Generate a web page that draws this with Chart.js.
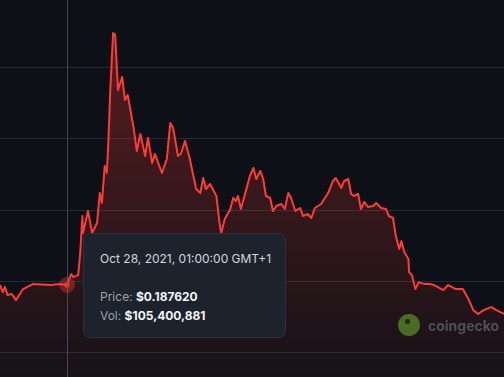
<!DOCTYPE html>
<html>
<head>
<meta charset="utf-8">
<script src="https://cdn.jsdelivr.net/npm/chart.js@4/dist/chart.umd.min.js"></script>
<style>
  html, body { margin: 0; padding: 0; background: #0d1117; }
  #wrap { position: relative; width: 504px; height: 377px; overflow: hidden; background: #0d1117; }
  #tip {
    position: absolute; box-sizing: border-box; width: 203px; height: 105px;
    background: #1c232d; border: 1px solid #2b323d; border-radius: 7px;
    font-family: Inter, "Noto Sans", sans-serif; font-size: 12px; color: #d3d7dd;
    padding: 15px 0 0 16px; line-height: 19px;
  }
  #tip .lbl { color: #9ba2ab; }
  #tip .val { color: #f2f4f7; font-weight: 700; }
  #wm { position: absolute; left: 398px; top: 314px; display: flex; align-items: center;
    font-family: Inter, "Noto Sans", sans-serif; font-weight: 700; font-size: 14px; color: #4b5056; }
  #wm .logo { width: 22px; height: 22px; border-radius: 50%; background: #4a6b22; margin-right: 8px; position: relative; }
  #wm .logo:after { content: ""; position: absolute; left: 7px; top: 5px; width: 5px; height: 5px; border-radius: 50%; background: #1c2a12; }
</style>
</head>
<body>
<div id="wrap">
  <canvas id="chart" width="504" height="377"></canvas>
  <div id="tip"></div>
  <div id="wm"><span class="logo"></span>coingecko</div>
</div>
<script>
// jam sejak 24 Okt 2021 01:00 GMT+1
const hours = [0, 4, 7, 11, 17, 23, 33, 47, 72, 86, 96, 102, 105, 112, 115, 118, 119, 126, 132, 139,
  143, 146, 150, 153, 155, 158, 162, 165, 169, 175, 179, 183, 186, 191, 196, 201, 208, 212, 218, 222,
  232, 239, 244, 248, 255, 259, 265, 272, 277, 281, 287, 291, 295, 301, 310, 315, 317, 322, 330, 334,
  338, 341, 345, 353, 358, 363, 367, 373, 377, 381, 387, 391, 396, 403, 408, 413, 417, 423, 430, 434,
  441, 446, 451, 460, 470, 477, 481, 489, 493, 499, 503, 507, 513, 517, 522, 527, 535, 539, 546, 553,
  557, 563, 567, 572, 575, 579, 585, 586, 590, 595, 600, 608, 615, 622, 635, 642, 653, 663, 671, 678,
  685, 689, 696, 704, 711, 722];

const prices = [0.1875, 0.1826, 0.1861, 0.1805, 0.1812, 0.1770, 0.1847, 0.1882, 0.1875, 0.1882,
  0.18762, 0.1952, 0.1931, 0.1945, 0.2106, 0.2358, 0.2239, 0.2393, 0.2239, 0.2309,
  0.2519, 0.2449, 0.2708, 0.2659, 0.2848, 0.3239, 0.3638, 0.3624, 0.3239, 0.3330,
  0.3170, 0.3204, 0.3121, 0.2988, 0.2813, 0.2932, 0.2778, 0.2904, 0.2729, 0.2792,
  0.2659, 0.2757, 0.3009, 0.2974, 0.2778, 0.2792, 0.2883, 0.2757, 0.2638, 0.2547,
  0.2519, 0.2624, 0.2547, 0.2582, 0.2498, 0.2288, 0.2239, 0.2337, 0.2407, 0.2484,
  0.2463, 0.2498, 0.2407, 0.2547, 0.2638, 0.2694, 0.2617, 0.2673, 0.2617, 0.2498,
  0.2484, 0.2393, 0.2428, 0.2442, 0.2407, 0.2519, 0.2484, 0.2393, 0.2414, 0.2358,
  0.2372, 0.2344, 0.2414, 0.2442, 0.2519, 0.2603, 0.2624, 0.2554, 0.2603, 0.2617,
  0.2512, 0.2498, 0.2512, 0.2407, 0.2456, 0.2421, 0.2428, 0.2449, 0.2414, 0.2407,
  0.2358, 0.2344, 0.2218, 0.2127, 0.2183, 0.2106, 0.2057, 0.1966, 0.1945, 0.1847,
  0.1896, 0.1882, 0.1882, 0.1875, 0.1840, 0.1875, 0.1847, 0.1847, 0.1777, 0.1700,
  0.1673, 0.1687, 0.1707, 0.1721, 0.1700, 0.1673];

const gridValues = [0.14, 0.19, 0.24, 0.29, 0.34];
const activeIndex = 10;
const activeVolume = 105400881;
const monthNames = ['Jan', 'Feb', 'Mar', 'Apr', 'May', 'Jun', 'Jul', 'Aug', 'Sep', 'Oct', 'Nov', 'Dec'];

const lineColor = '#ff3b33';

function formatDate(h) {
    // start: 24 Okt 2021 01:00 GMT+1
    const d = new Date(Date.UTC(2021, 9, 24, 1, 0, 0) + h * 3600000);
    const pad = n => String(n).padStart(2, '0');
    return `${monthNames[d.getUTCMonth()]} ${d.getUTCDate()}, ${d.getUTCFullYear()}, ` +
        `${pad(d.getUTCHours())}:${pad(d.getUTCMinutes())}:00 GMT+1`;
}

// garis vertikal + titik aktif + posisi tooltip
const hoverPlugin = {
    id: 'hoverPlugin',
    afterDatasetsDraw(chart) {
        const { ctx, chartArea, scales } = chart;
        const px = scales.x.getPixelForValue(hours[activeIndex]);
        const py = scales.y.getPixelForValue(prices[activeIndex]);
        ctx.save();
        ctx.strokeStyle = '#434a52';
        ctx.lineWidth = 1;
        ctx.beginPath();
        ctx.moveTo(Math.round(px) + 0.5, chartArea.top);
        ctx.lineTo(Math.round(px) + 0.5, chartArea.bottom);
        ctx.stroke();
        ctx.fillStyle = 'rgba(255, 59, 51, 0.35)';
        ctx.beginPath();
        ctx.arc(px, py, 8, 0, Math.PI * 2);
        ctx.fill();
        ctx.fillStyle = 'rgba(255, 59, 51, 0.6)';
        ctx.beginPath();
        ctx.arc(px, py, 3, 0, Math.PI * 2);
        ctx.fill();
        ctx.restore();

        const tip = document.getElementById('tip');
        tip.style.left = (px + 16) + 'px';
        tip.style.top = (py - 52) + 'px';
        tip.innerHTML = `${formatDate(hours[activeIndex])}<br><br>` +
            `<span class="lbl">Price: </span><span class="val">$${prices[activeIndex].toFixed(6)}</span><br>` +
            `<span class="lbl">Vol: </span><span class="val">$${activeVolume.toLocaleString('en-US')}</span>`;
    }
};

const ctx = document.getElementById('chart').getContext('2d');
const grad = ctx.createLinearGradient(0, 30, 0, 377);
grad.addColorStop(0, 'rgba(255, 59, 51, 0.30)');
grad.addColorStop(1, 'rgba(255, 59, 51, 0.04)');

new Chart(ctx, {
    type: 'line',
    data: {
        datasets: [{
            data: hours.map((h, i) => ({ x: h, y: prices[i] })),
            borderColor: lineColor,
            borderWidth: 2,
            borderJoinStyle: 'round',
            backgroundColor: grad,
            fill: 'start',
            pointRadius: 0,
            tension: 0
        }]
    },
    options: {
        responsive: false,
        animation: false,
        layout: { padding: 0 },
        plugins: {
            legend: { display: false },
            tooltip: { enabled: false }
        },
        scales: {
            x: {
                type: 'linear',
                min: 0,
                max: 722,
                display: false
            },
            y: {
                min: 0.1232,
                max: 0.3869,
                afterBuildTicks: axis => {
                    axis.ticks = gridValues.map(v => ({ value: v }));
                },
                ticks: { display: false },
                grid: { color: '#262b33', drawTicks: false },
                border: { display: false }
            }
        }
    },
    plugins: [hoverPlugin]
});
</script>
</body>
</html>
